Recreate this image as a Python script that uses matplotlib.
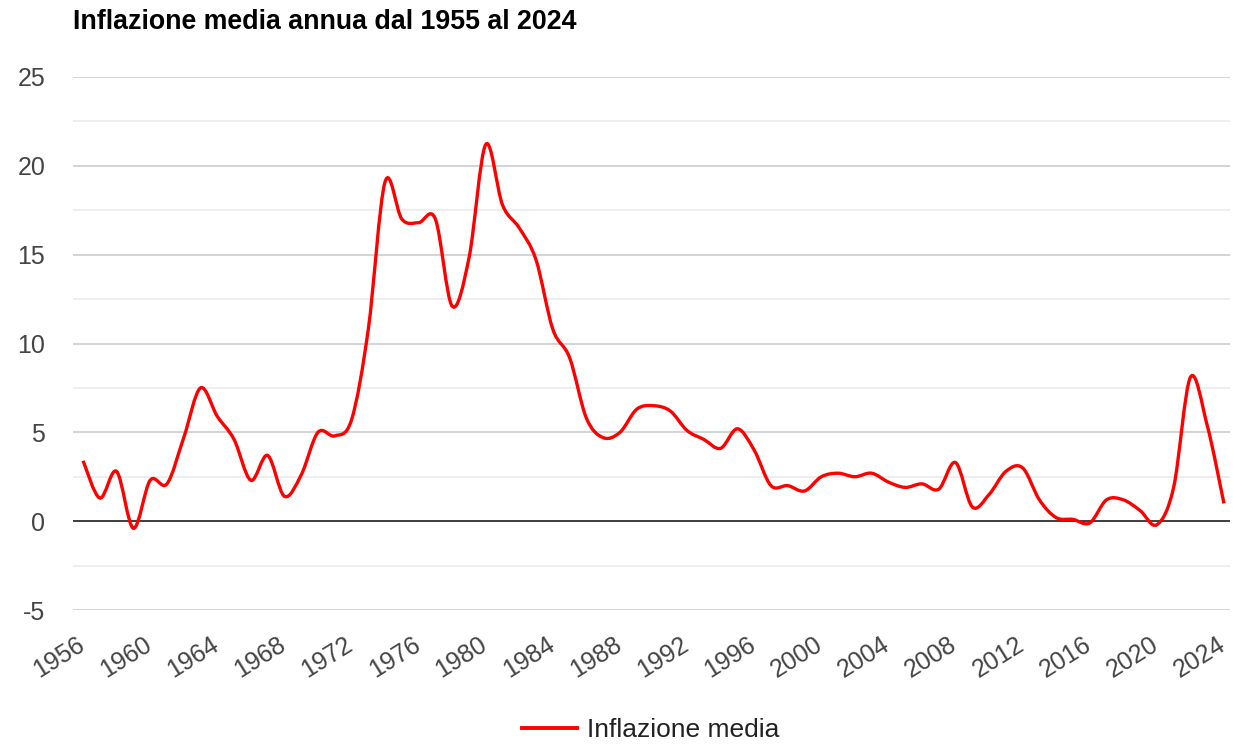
import numpy as np
import matplotlib.pyplot as plt
import matplotlib.transforms as mtransforms
from matplotlib.path import Path
from matplotlib.patches import PathPatch
from matplotlib.lines import Line2D

plt.rcParams['font.family'] = ['Liberation Sans', 'DejaVu Sans']
plt.rcParams['axes.unicode_minus'] = False

# Inflazione media annua
anni = list(range(1956, 2025))
inflazione = [3.4, 1.3, 2.8, -0.4, 2.3, 2.1, 4.7, 7.5, 5.9, 4.6,
              2.3, 3.7, 1.4, 2.6, 5.0, 4.8, 5.7, 10.8, 19.1, 17.0,
              16.8, 17.0, 12.1, 14.8, 21.2, 17.8, 16.5, 14.7, 10.8, 9.2,
              5.8, 4.7, 5.0, 6.3, 6.5, 6.2, 5.1, 4.6, 4.1, 5.2,
              4.0, 2.0, 2.0, 1.7, 2.5, 2.7, 2.5, 2.7, 2.2, 1.9,
              2.1, 1.8, 3.3, 0.8, 1.5, 2.8, 3.0, 1.2, 0.2, 0.1,
              -0.1, 1.2, 1.2, 0.6, -0.2, 1.9, 8.1, 5.4, 1.0]
anni_tick = list(range(1956, 2025, 4))
serie = 'Inflazione media'
titolo = 'Inflazione media annua dal 1955 al 2024'

fig = plt.figure(figsize=(12.33, 7.44), dpi=100)
ax = fig.add_axes([73/1233, 1 - 610/744, (1230-73)/1233, (610-77)/744])

# curva liscia (Catmull-Rom -> Bezier) costruita dai punti
x = np.array(anni, dtype=float)
y = np.array(inflazione, dtype=float)
xp = np.concatenate([[x[0]], x, [x[-1]]])
yp = np.concatenate([[y[0]], y, [y[-1]]])
verts = [(x[0], y[0])]
codes = [Path.MOVETO]
k = 6.0
for i in range(1, len(xp) - 2):
    c1 = (xp[i] + (xp[i+1] - xp[i-1]) / k, yp[i] + (yp[i+1] - yp[i-1]) / k)
    c2 = (xp[i+1] - (xp[i+2] - xp[i]) / k, yp[i+1] - (yp[i+2] - yp[i]) / k)
    verts += [c1, c2, (xp[i+1], yp[i+1])]
    codes += [Path.CURVE4] * 3
ax.add_patch(PathPatch(Path(verts, codes), facecolor='none', edgecolor='#ff0000',
                       lw=2.4, capstyle='butt', zorder=3))

ax.set_xlim(1955.4, 2024.36)
ax.set_ylim(-5, 25)
ax.set_yticks([-5, 0, 5, 10, 15, 20, 25])
ax.set_yticks(np.arange(-2.5, 25, 5), minor=True)
ax.set_xticks(anni_tick)
ax.set_xticklabels([str(a) for a in anni_tick], rotation=32, ha='right',
                   va='top', rotation_mode='anchor')
ax.tick_params(axis='both', which='both', length=0, labelsize=18, colors='#444444')
ax.tick_params(axis='x', pad=16)
ax.tick_params(axis='y', pad=20)
shift = mtransforms.ScaledTranslation(-7/100, 0, fig.dpi_scale_trans)
for lab in ax.get_xticklabels():
    lab.set_transform(lab.get_transform() + shift)
ax.grid(axis='y', which='major', color='#cccccc', lw=1.2)
ax.grid(axis='y', which='minor', color='#ebebeb', lw=1.2)
ax.axhline(0, color='#333333', lw=1.3, zorder=2)
for s in ax.spines.values():
    s.set_visible(False)

fig.text(73/1233, 1 - 22/744, titolo, fontsize=19.3, fontweight='bold',
         ha='left', va='center', color='black')

handle = Line2D([], [], color='#ff0000', lw=2.8)
fig.legend([handle], [serie], loc='center', bbox_to_anchor=(651/1233, 1 - 730/744),
           frameon=False, fontsize=19, handlelength=2.05, handletextpad=0.4,
           labelcolor='#222222')

fig.savefig('out.png', dpi=100)
